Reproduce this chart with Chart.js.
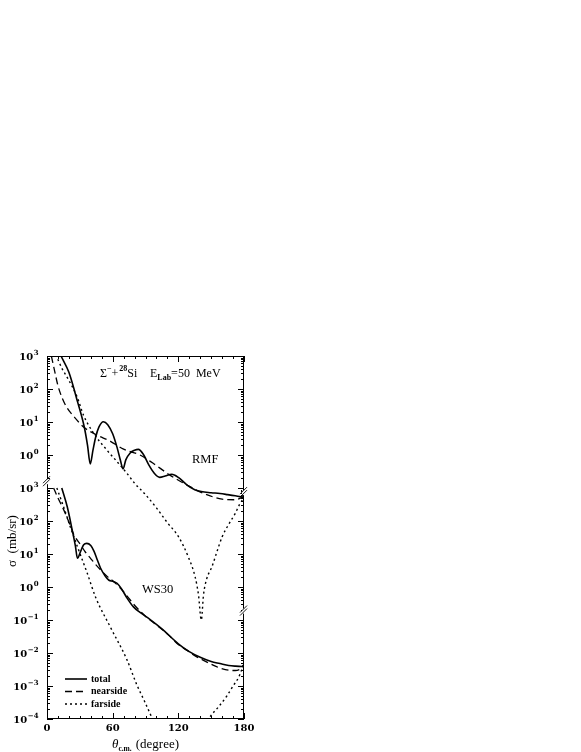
<!DOCTYPE html>
<html>
<head>
<meta charset="utf-8">
<script src="https://cdn.jsdelivr.net/npm/chart.js@4.4.1/dist/chart.umd.min.js"></script>
<style>
  html, body { margin: 0; padding: 0; background: #fff; }
  #c { display: block; }
</style>
</head>
<body>
<canvas id="c" width="581" height="752"></canvas>
<script>
// ---------- DATA (angle in degrees, cross section in mb/sr) ----------
// Upper panel (RMF) values are as read on the upper panel's own labels;
// the panel is drawn shifted up by RMF_SHIFT on the common log axis.
const RMF_SHIFT = 1e4;

const rmfTotal = [
  [12.8, 1.0e3], [20, 3.2e2], [28, 4.0e1], [34, 7.2], [37, 2.0], [39.5, 0.54],
  [42, 1.4], [44.5, 3.5], [47.5, 7.1], [51.5, 10.2], [55.5, 8.3], [60, 4.4],
  [64, 1.7], [67, 0.71], [69.5, 0.38], [72, 0.71], [76, 1.15], [80, 1.4],
  [83.5, 1.48], [88, 1.05], [93, 0.5], [98, 0.28], [103, 0.21], [108, 0.23],
  [114, 0.26], [120, 0.21], [128, 0.123], [135, 0.089], [141, 0.078],
  [150, 0.072], [158, 0.068], [165, 0.063], [172, 0.058], [180, 0.052]
];
const rmfNear = [
  [4, 1.0e3], [7, 3.5e2], [10, 1.26e2], [14, 52], [18, 28], [25, 14], [34, 6.8],
  [45, 4.1], [58, 2.6], [70, 1.5], [85, 1.0], [97, 0.56], [112, 0.25],
  [128, 0.123], [143, 0.069], [160, 0.046], [172, 0.044], [180, 0.055]
];
const rmfFar = [
  [8, 1.1e3], [14, 4.0e2], [18.3, 2.3e2], [27.4, 59], [33.4, 16], [42.5, 4.6],
  [54.8, 1.4], [64, 0.63], [73, 0.28], [80, 0.14], [90, 0.063], [100, 0.025],
  [110, 8.9e-3], [120, 3.4e-3], [129, 8.3e-4], [135.4, 2.0e-4], [138.4, 5.8e-5],
  [141, 1.0e-5], [143, 5.8e-5], [146, 1.8e-4], [150.7, 4.1e-4], [155, 1.1e-3],
  [160, 3.3e-3], [166, 7.9e-3], [172, 1.7e-2], [176, 3.2e-2], [180, 5.2e-2]
];

const wsTotal = [
  [13.5, 1.0e3], [18.5, 2.7e2], [23, 54], [26, 17], [27.8, 7.4], [30.7, 12],
  [33.5, 19], [36.3, 21], [40, 18], [43, 12], [46, 6.6], [49, 3.7], [53, 2.2],
  [56.6, 1.6], [60, 1.5], [64, 1.3], [68, 0.89], [73, 0.47], [79, 0.25],
  [85, 0.17], [94, 0.105], [105, 0.054], [120, 0.019], [130, 0.011],
  [140, 7.4e-3], [150, 5.5e-3], [158, 4.8e-3], [166, 4.2e-3], [172, 4.0e-3],
  [178, 3.9e-3], [180, 4.3e-3]
];
const wsNear = [
  [6, 1.0e3], [10, 5.0e2], [15.5, 2.1e2], [21.6, 68], [24.6, 38], [30.7, 19],
  [35, 11.5], [39.8, 7.4], [44, 5.0], [49, 3.3], [55, 2.1], [61, 1.45],
  [67, 0.93], [73, 0.54], [80, 0.28], [90, 0.13], [100, 0.071], [110, 0.038],
  [120, 0.018], [128, 0.012], [135, 8.3e-3], [143, 6.0e-3], [150, 4.6e-3],
  [158, 3.5e-3], [166, 3.0e-3], [172, 2.95e-3], [177, 3.3e-3], [180, 4.0e-3]
];
const wsFar = [
  [9, 1.0e3], [15.5, 2.5e2], [21, 71], [27.7, 17], [36.8, 2.6], [44.5, 0.48],
  [58, 0.06], [73, 6.3e-3], [82, 1.1e-3], [89, 3.5e-4], [96, 1.05e-4],
  [102, 3.2e-5], [120, null],
  [140, 3.5e-5], [148, 1.05e-4], [157, 2.4e-4], [164, 4.8e-4], [170, 1.0e-3],
  [175, 1.8e-3], [178, 3.2e-3], [180, 5.0e-3]
];

// ---------- AXES / TEXT ----------
const xTickValues = [0, 60, 120, 180];
const xTickLabels = ['0', '60', '120', '180'];
const yTickValues = [1e-4, 1e-3, 1e-2, 1e-1, 1e0, 1e1, 1e2, 1e3, 1e4, 1e5, 1e6, 1e7];
const yTickExps   = ['\u22124', '\u22123', '\u22122', '\u22121', '0', '1', '2', '3', '0', '1', '2', '3'];
const legendLabels = ['total', 'nearside', 'farside'];
const panelLabels = ['RMF', 'WS30'];

const STYLE = {
  total: { dash: [], width: 1.6 },
  nearside: { dash: [7, 4], width: 1.3 },
  farside: { dash: [2, 3], width: 1.4 }
};

function toXY(arr, shift) {
  return arr.map(p => ({ x: p[0], y: p[1] === null ? null : p[1] * shift }));
}
function ds(label, arr, shift, kind) {
  return {
    label: label,
    data: toXY(arr, shift),
    borderColor: '#000',
    borderWidth: STYLE[kind].width,
    borderDash: STYLE[kind].dash,
    pointRadius: 0,
    fill: false,
    spanGaps: false,
    cubicInterpolationMode: 'monotone'
  };
}

const datasets = [
  ds('RMF total', rmfTotal, RMF_SHIFT, 'total'),
  ds('RMF nearside', rmfNear, RMF_SHIFT, 'nearside'),
  ds('RMF farside', rmfFar, RMF_SHIFT, 'farside'),
  ds('total', wsTotal, 1, 'total'),
  ds('nearside', wsNear, 1, 'nearside'),
  ds('farside', wsFar, 1, 'farside')
];

const SERIF = '"Liberation Serif", "DejaVu Serif", serif';
const TICKF = '"DejaVu Serif", "Liberation Serif", serif';

const decor = {
  id: 'decor',
  afterDraw(chart) {
    const ctx = chart.ctx;
    const a = chart.chartArea;
    const xs = chart.scales.x, ys = chart.scales.y;
    ctx.save();
    ctx.strokeStyle = '#000';
    ctx.fillStyle = '#000';
    ctx.lineWidth = 1;
    ctx.setLineDash([]);
    // frame
    ctx.strokeRect(a.left + 0.5, a.top + 0.5, a.right - a.left - 1, a.bottom - a.top - 1);
    // y ticks (inward, both sides)
    ctx.beginPath();
    for (let e = -4; e <= 7; e++) {
      for (let m = 1; m <= 9; m++) {
        const v = m * Math.pow(10, e);
        if (v > 1e7 * 1.0001) break;
        const py = Math.round(ys.getPixelForValue(v)) + 0.5;
        const len = m === 1 ? 6 : 3;
        ctx.moveTo(a.left, py); ctx.lineTo(a.left + len, py);
        ctx.moveTo(a.right, py); ctx.lineTo(a.right - len, py);
      }
    }
    // x ticks (inward, top and bottom)
    for (let d = 0; d <= 180; d += 10) {
      const px = Math.round(xs.getPixelForValue(d)) + 0.5;
      const len = d % 60 === 0 ? 6 : 3;
      ctx.moveTo(px, a.bottom); ctx.lineTo(px, a.bottom - len);
      ctx.moveTo(px, a.top); ctx.lineTo(px, a.top + len);
    }
    ctx.stroke();

    // axis break marks
    function brk(px, py) {
      ctx.save();
      ctx.fillStyle = '#fff';
      ctx.fillRect(px - 2, py - 3, 4, 5);
      ctx.beginPath();
      ctx.moveTo(px - 4, py + 1); ctx.lineTo(px + 3, py - 6);
      ctx.moveTo(px - 4, py + 4); ctx.lineTo(px + 3, py - 3);
      ctx.strokeStyle = '#000';
      ctx.lineWidth = 0.9;
      ctx.stroke();
      ctx.restore();
    }
    brk(a.left, ys.getPixelForValue(1.5e3));
    brk(a.right, ys.getPixelForValue(7e2));
    brk(a.right, ys.getPixelForValue(1.8e-1));

    // y tick labels with superscripts
    ctx.textBaseline = 'middle';
    ctx.textAlign = 'left';
    yTickValues.forEach((v, i) => {
      const py = ys.getPixelForValue(v);
      ctx.font = 'bold 10px ' + TICKF;
      const w10 = ctx.measureText('10').width;
      ctx.font = 'bold 7px ' + TICKF;
      const we = ctx.measureText(yTickExps[i]).width;
      const x0 = a.left - 9 - w10 - we;
      ctx.font = 'bold 10px ' + TICKF;
      ctx.fillText('10', x0, py + 1);
      ctx.font = 'bold 7px ' + TICKF;
      ctx.fillText(yTickExps[i], x0 + w10 + 0.5, py - 3);
    });
    // x tick labels
    ctx.textAlign = 'center';
    ctx.font = 'bold 10px ' + TICKF;
    xTickValues.forEach((v, i) => {
      ctx.fillText(xTickLabels[i], xs.getPixelForValue(v), a.bottom + 9);
    });

    // axis titles
    ctx.textBaseline = 'alphabetic';
    ctx.textAlign = 'left';
    // x title: theta_c.m. (degree)
    {
      let x = 112, yb = 748;
      ctx.font = 'italic 13px ' + SERIF;
      ctx.fillText('\u03b8', x, yb);
      x += ctx.measureText('\u03b8').width;
      ctx.font = 'bold 7.5px ' + SERIF;
      ctx.fillText('c.m.', x, yb + 3);
      x += ctx.measureText('c.m.').width + 4;
      ctx.font = '13px ' + SERIF;
      ctx.fillText('(degree)', x, yb);
    }
    // y title
    ctx.save();
    ctx.translate(16, 541);
    ctx.rotate(-Math.PI / 2);
    ctx.textAlign = 'center';
    ctx.font = '13px ' + SERIF;
    ctx.fillText('\u03c3  (mb/sr)', 0, 0);
    ctx.restore();

    // title: Sigma^- + 28Si  E_Lab=50 MeV
    {
      let x = 100, yb = 377;
      const big = '12px ' + SERIF, sm = '8px ' + SERIF;
      ctx.font = big; ctx.fillText('\u03a3', x, yb); x += ctx.measureText('\u03a3').width;
      ctx.font = 'bold ' + sm; ctx.fillText('\u2212', x, yb - 6); x += ctx.measureText('\u2212').width;
      ctx.font = big; ctx.fillText('+', x, yb); x += ctx.measureText('+').width + 1;
      ctx.font = 'bold ' + sm; ctx.fillText('28', x, yb - 6); x += ctx.measureText('28').width;
      ctx.font = big; ctx.fillText('Si', x, yb);
      x = 150;
      ctx.font = big; ctx.fillText('E', x, yb); x += ctx.measureText('E').width;
      ctx.font = 'bold ' + sm; ctx.fillText('Lab', x, yb + 3); x += ctx.measureText('Lab').width;
      ctx.font = big; ctx.fillText('=50  MeV', x, yb);
    }
    // panel labels
    ctx.font = '12.5px ' + SERIF;
    ctx.fillText(panelLabels[0], 192, 463);
    ctx.fillText(panelLabels[1], 142, 593);

    // legend
    const kinds = ['total', 'nearside', 'farside'];
    const ly = [679, 691.5, 704];
    kinds.forEach((k, i) => {
      ctx.beginPath();
      ctx.setLineDash(STYLE[k].dash);
      ctx.lineWidth = STYLE[k].width;
      ctx.moveTo(65, ly[i]); ctx.lineTo(87, ly[i]);
      ctx.stroke();
      ctx.setLineDash([]);
      ctx.font = 'bold 10px ' + SERIF;
      ctx.textBaseline = 'middle';
      ctx.fillText(legendLabels[i], 91, ly[i]);
    });
    ctx.restore();
  }
};

new Chart(document.getElementById('c'), {
  type: 'line',
  data: { datasets: datasets },
  options: {
    responsive: false,
    animation: false,
    devicePixelRatio: 1,
    layout: { padding: { left: 47, top: 356, right: 337, bottom: 33 } },
    plugins: { legend: { display: false }, tooltip: { enabled: false }, title: { display: false } },
    scales: {
      x: { type: 'linear', min: 0, max: 180, display: false },
      y: { type: 'logarithmic', min: 1e-4, max: 1e7, display: false }
    }
  },
  plugins: [decor]
});
</script>
</body>
</html>
